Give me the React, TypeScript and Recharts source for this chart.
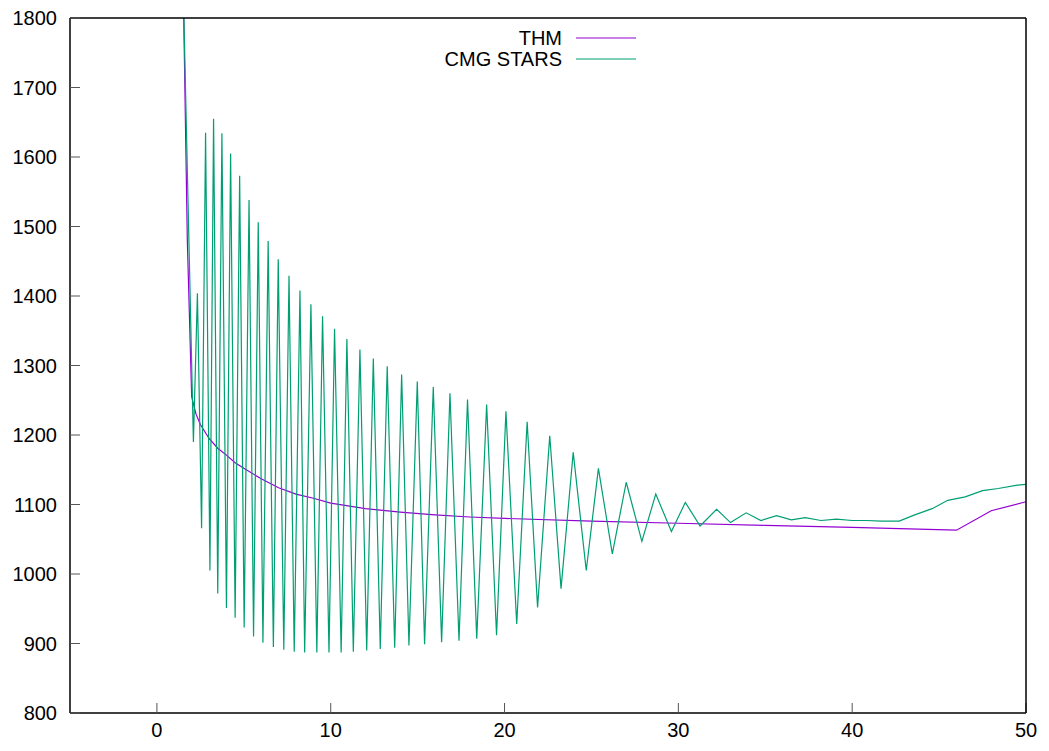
import { LineChart, Line, XAxis, YAxis } from "recharts";

const thmX = [1.5, 1.75, 2.0, 2.25, 2.5, 3.0, 3.5, 4.0, 4.5, 5.0, 6.0, 7.0, 8.0, 9.0, 10, 12, 14, 16, 18, 20, 25, 30, 35, 40, 46, 48, 50];
const thmY = [1870, 1480, 1255, 1230, 1215, 1195, 1181, 1171, 1160, 1152, 1137, 1124, 1115, 1109, 1102, 1094, 1089, 1085, 1082, 1080, 1076, 1073, 1070, 1067, 1063, 1091, 1104];

const starsX = [
  1.5, 2.1, 2.33, 2.57, 2.8, 3.05, 3.26, 3.5, 3.74, 4.0, 4.24, 4.5, 4.76, 5.02, 5.3, 5.56, 5.83, 6.1, 6.4, 6.7,
  6.98, 7.3, 7.6, 7.9, 8.23, 8.5, 8.86, 9.2, 9.53, 9.9, 10.22, 10.6, 10.93, 11.3, 11.68, 12.07, 12.45, 12.85, 13.25, 13.68,
  14.08, 14.5, 14.98, 15.4, 15.9, 16.38, 16.86, 17.38, 17.87, 18.4, 18.97, 19.54, 20.08, 20.7, 21.3, 21.9, 22.6, 23.25, 23.95, 24.7,
  25.4, 26.2, 27.0, 27.9, 28.7, 29.6, 30.4, 31.25, 32.2, 33.0, 33.9, 34.75, 35.65, 36.5, 37.3, 38.2, 39.1, 40.0, 40.8, 41.7,
  42.7, 43.6, 44.6, 45.5, 46.5, 47.5, 48.4, 49.5, 50,
];
const starsY = [
  1860, 1190, 1404, 1066, 1635, 1005, 1655, 972, 1634, 951, 1605, 937, 1573, 923, 1538, 910, 1506, 901, 1479, 895,
  1453, 891, 1429, 888, 1408, 887, 1388, 887, 1371, 887, 1353, 887, 1338, 888, 1323, 890, 1310, 892, 1299, 894,
  1287, 897, 1277, 899, 1269, 902, 1260, 904, 1251, 907, 1244, 912, 1234, 928, 1219, 952, 1199, 979, 1175, 1005,
  1152, 1029, 1132, 1047, 1115, 1061, 1103, 1069, 1093, 1074, 1088, 1077, 1084, 1078, 1081, 1077, 1079, 1077, 1077, 1076,
  1076, 1085, 1094, 1106, 1111, 1120, 1123, 1128, 1129,
];

const xTicks = [0, 10, 20, 30, 40, 50];
const yTicks = [800, 900, 1000, 1100, 1200, 1300, 1400, 1500, 1600, 1700, 1800];

const series = [
  { name: "THM", color: "#9400d3", data: thmX.map((x, i) => ({ x, y: thmY[i] })) },
  { name: "CMG STARS", color: "#009e73", data: starsX.map((x, i) => ({ x, y: starsY[i] })) },
];

const font = "'Liberation Sans', Arial, sans-serif";
const tickStyle = { fill: "#000", fontSize: 20, fontFamily: font };
const frame = { stroke: "#000", strokeWidth: 1.5 };
const tickLine = { stroke: "#555" };

// gnuplot-style key: label right-aligned, sample line to its right
function Key() {
  return (
    <svg width={230} height={50} style={{ position: "absolute", left: 420, top: 20 }}>
      {series.map((s, i) => (
        <g key={s.name}>
          <text
            x={142}
            y={18 + i * 21}
            textAnchor="end"
            dominantBaseline="central"
            fontSize={20}
            fontFamily={font}
            fill="#000"
          >
            {s.name}
          </text>
          <line x1={156} x2={216} y1={18 + i * 21} y2={18 + i * 21} stroke={s.color} strokeWidth={1.2} />
        </g>
      ))}
    </svg>
  );
}

export default function App() {
  return (
    <div style={{ position: "absolute", left: 0, top: 0, width: 1049, height: 751, background: "#fff" }}>
      <LineChart width={1049} height={751} margin={{ top: 17, right: 22, bottom: 0, left: 0 }}>
        <XAxis
          xAxisId="b"
          type="number"
          dataKey="x"
          domain={[-5, 50]}
          allowDataOverflow
          ticks={xTicks}
          height={38}
          tickSize={-10}
          tickMargin={20}
          tick={tickStyle}
          axisLine={frame}
          tickLine={tickLine}
        />
        <XAxis
          xAxisId="t"
          orientation="top"
          type="number"
          dataKey="x"
          domain={[-5, 50]}
          allowDataOverflow
          ticks={xTicks}
          height={1}
          tickSize={-10}
          tick={false}
          axisLine={frame}
          tickLine={tickLine}
        />
        <YAxis
          yAxisId="l"
          type="number"
          domain={[800, 1800]}
          allowDataOverflow
          ticks={yTicks}
          width={70}
          tickSize={-10}
          tickMargin={23}
          tick={tickStyle}
          axisLine={frame}
          tickLine={tickLine}
        />
        <YAxis
          yAxisId="r"
          orientation="right"
          type="number"
          domain={[800, 1800]}
          allowDataOverflow
          ticks={yTicks}
          width={1}
          tickSize={-10}
          tick={false}
          axisLine={frame}
          tickLine={tickLine}
        />
        {series.map((s) => (
          <Line
            key={s.name}
            xAxisId="b"
            yAxisId="l"
            data={s.data}
            dataKey="y"
            name={s.name}
            stroke={s.color}
            strokeWidth={1.2}
            dot={false}
            isAnimationActive={false}
          />
        ))}
      </LineChart>
      <Key />
    </div>
  );
}
